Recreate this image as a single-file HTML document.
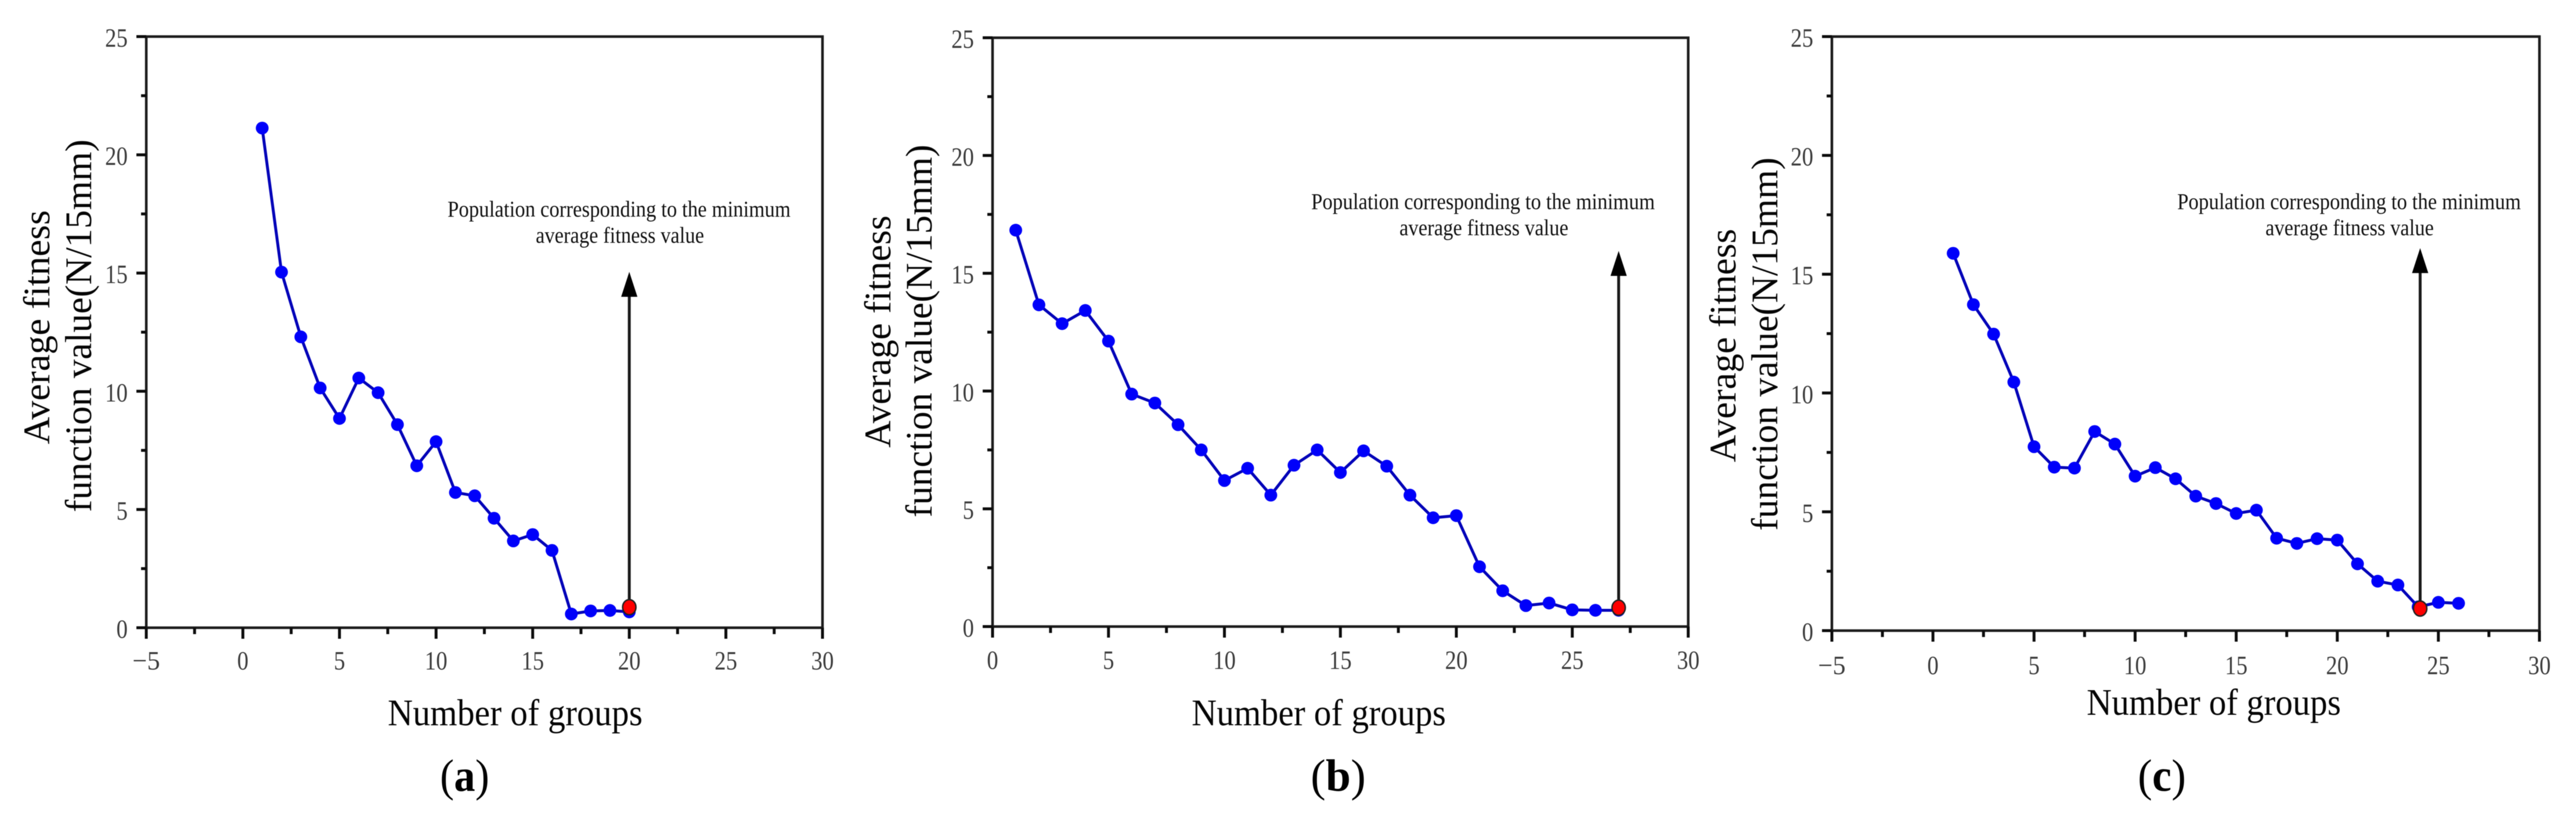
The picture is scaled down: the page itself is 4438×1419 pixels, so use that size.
<!DOCTYPE html>
<html lang="en">
<head>
<meta charset="utf-8">
<title>Average fitness function value vs number of groups</title>
<style>
html,body{margin:0;padding:0;background:#fff;width:4438px;height:1419px;overflow:hidden}
svg{display:block}
text{font-family:"Liberation Serif","DejaVu Serif",serif}
.title{font-size:65px;fill:#050505}
.note{font-size:39px;fill:#111}
.cap{font-size:78px;fill:#000}
.tick{font-size:46px;fill:#3c3c3c}
</style>
</head>
<body>
<svg id="figure" xmlns="http://www.w3.org/2000/svg" width="4438" height="1419" viewBox="0 0 4438 1419">
  <rect width="4438" height="1419" fill="#fff"/>

  <g id="panel-a" style="filter:blur(.6px)">
    <text class="title" transform="translate(85 765) rotate(-90)" textLength="403" lengthAdjust="spacingAndGlyphs">Average fitness</text>
    <text class="title" transform="translate(157 882) rotate(-90)" textLength="642" lengthAdjust="spacingAndGlyphs">function value(N/15mm)</text>
    <text class="title" x="668" y="1249" textLength="439" lengthAdjust="spacingAndGlyphs">Number of groups</text>
    <text class="note" x="771" y="373" textLength="591" lengthAdjust="spacingAndGlyphs">Population corresponding to the minimum</text>
    <text class="note" x="923" y="418" textLength="290" lengthAdjust="spacingAndGlyphs">average fitness value</text>
    <text class="cap" x="758" y="1362" textLength="85" lengthAdjust="spacingAndGlyphs">(<tspan font-weight="bold">a</tspan>)</text>
  </g>

  <g id="panel-b" style="filter:blur(.6px)">
    <text class="title" transform="translate(1534 771) rotate(-90)" textLength="400" lengthAdjust="spacingAndGlyphs">Average fitness</text>
    <text class="title" transform="translate(1605 891) rotate(-90)" textLength="642" lengthAdjust="spacingAndGlyphs">function value(N/15mm)</text>
    <text class="title" x="2053" y="1249" textLength="438" lengthAdjust="spacingAndGlyphs">Number of groups</text>
    <text class="note" x="2259" y="360" textLength="592" lengthAdjust="spacingAndGlyphs">Population corresponding to the minimum</text>
    <text class="note" x="2411" y="405" textLength="291" lengthAdjust="spacingAndGlyphs">average fitness value</text>
    <text class="cap" x="2258" y="1362" textLength="95" lengthAdjust="spacingAndGlyphs">(<tspan font-weight="bold">b</tspan>)</text>
  </g>

  <g id="panel-c" style="filter:blur(.6px)">
    <text class="title" transform="translate(2990 796) rotate(-90)" textLength="402" lengthAdjust="spacingAndGlyphs">Average fitness</text>
    <text class="title" transform="translate(3062 914) rotate(-90)" textLength="643" lengthAdjust="spacingAndGlyphs">function value(N/15mm)</text>
    <text class="title" x="3595" y="1231" textLength="438" lengthAdjust="spacingAndGlyphs">Number of groups</text>
    <text class="note" x="3751" y="360" textLength="592" lengthAdjust="spacingAndGlyphs">Population corresponding to the minimum</text>
    <text class="note" x="3903" y="405" textLength="290" lengthAdjust="spacingAndGlyphs">average fitness value</text>
    <text class="cap" x="3683" y="1362" textLength="83" lengthAdjust="spacingAndGlyphs">(<tspan font-weight="bold">c</tspan>)</text>
  </g>
</svg>

<script>
// ---- chart data ----
const yTicks = [0, 5, 10, 15, 20, 25];
const yMinorTicks = [2.5, 7.5, 12.5, 17.5, 22.5];

const xTicksA = [-5, 0, 5, 10, 15, 20, 25, 30];
const xMinorTicksA = [-2.5, 2.5, 7.5, 12.5, 17.5, 22.5, 27.5];
const groupsA = [1, 2, 3, 4, 5, 6, 7, 8, 9, 10, 11, 12, 13, 14, 15, 16, 17, 18, 19, 20];
const fitnessA = [21.13, 15.04, 12.3, 10.14, 8.85, 10.56, 9.94, 8.59, 6.85, 7.87, 5.72, 5.58, 4.63, 3.67, 3.94, 3.27, 0.58, 0.71, 0.73, 0.67];
const minimumA = [20, 0.87];
const arrowTipValueA = 15.05;

const xTicksB = [0, 5, 10, 15, 20, 25, 30];
const xMinorTicksB = [2.5, 7.5, 12.5, 17.5, 22.5, 27.5];
const groupsB = [1, 2, 3, 4, 5, 6, 7, 8, 9, 10, 11, 12, 13, 14, 15, 16, 17, 18, 19, 20, 21, 22, 23, 24, 25, 26, 27];
const fitnessB = [16.83, 13.66, 12.86, 13.42, 12.12, 9.87, 9.49, 8.57, 7.5, 6.2, 6.72, 5.58, 6.85, 7.5, 6.54, 7.46, 6.81, 5.58, 4.62, 4.71, 2.54, 1.52, 0.89, 1.0, 0.71, 0.69, 0.69];
const minimumB = [27, 0.8];
const arrowTipValueB = 15.95;

const xTicksC = [-5, 0, 5, 10, 15, 20, 25, 30];
const xMinorTicksC = [-2.5, 2.5, 7.5, 12.5, 17.5, 22.5, 27.5];
const groupsC = [1, 2, 3, 4, 5, 6, 7, 8, 9, 10, 11, 12, 13, 14, 15, 16, 17, 18, 19, 20, 21, 22, 23, 24, 25, 26];
const fitnessC = [15.88, 13.72, 12.48, 10.46, 7.74, 6.88, 6.84, 8.38, 7.85, 6.5, 6.86, 6.39, 5.66, 5.35, 4.93, 5.07, 3.89, 3.67, 3.87, 3.81, 2.81, 2.08, 1.92, 1.0, 1.19, 1.15];
const minimumC = [24.1, 0.93];
const arrowTipValueC = 16.1;

const NS = 'http://www.w3.org/2000/svg';

function mk(parent, tag, attrs) {
  const el = document.createElementNS(NS, tag);
  for (const k in attrs) el.setAttribute(k, attrs[k]);
  parent.appendChild(el);
  return el;
}

function tickText(v) {
  return v < 0 ? '\u2212' + Math.abs(v) : String(v);
}

function tickWidth(v) {
  return String(Math.abs(v)).length * 19.5 + (v < 0 ? 28 : 0);
}

function drawPanel(id, box, xDomain, xTicks, xMinor, groups, fitness, minimum, arrowTip) {
  const g = document.getElementById(id);
  const sx = v => box.left + (v - xDomain[0]) / (xDomain[1] - xDomain[0]) * (box.right - box.left);
  const sy = v => box.bottom - v / 25 * (box.bottom - box.top);
  const axisStyle = {stroke: '#0c0c0c', 'stroke-width': 5, fill: 'none'};

  const frame = mk(g, 'rect', {x: box.left, y: box.top, width: box.right - box.left, height: box.bottom - box.top, stroke: '#1c1c1c', 'stroke-width': 4.5, fill: 'none'});
  
  

  yTicks.forEach(v => {
    const t = mk(g, 'line', Object.assign({x1: box.left - 17, x2: box.left, y1: sy(v), y2: sy(v)}, axisStyle));
    
    
    const l = mk(g, 'text', {x: box.left - 32, y: sy(v) + 17.5, class: 'tick', 'text-anchor': 'end', textLength: tickWidth(v), lengthAdjust: 'spacingAndGlyphs'});
    l.textContent = tickText(v);
    
    
  });

  yMinorTicks.forEach(v => {
    const t = mk(g, 'line', Object.assign({x1: box.left - 9, x2: box.left, y1: sy(v), y2: sy(v)}, axisStyle));
    
    
  });

  xTicks.forEach(v => {
    const t = mk(g, 'line', Object.assign({x1: sx(v), x2: sx(v), y1: box.bottom, y2: box.bottom + 19}, axisStyle));
    
    
    const l = mk(g, 'text', {x: sx(v), y: box.labelY, class: 'tick', 'text-anchor': 'middle', textLength: tickWidth(v), lengthAdjust: 'spacingAndGlyphs'});
    l.textContent = tickText(v);
    
    
  });

  xMinor.forEach(v => {
    const t = mk(g, 'line', Object.assign({x1: sx(v), x2: sx(v), y1: box.bottom, y2: box.bottom + 11}, axisStyle));
    
    
  });

  const series = mk(g, 'polyline', {
    points: groups.map((x, i) => sx(x) + ',' + sy(fitness[i])).join(' '),
    fill: 'none', stroke: '#0000b8', 'stroke-width': 5, 'stroke-linejoin': 'round'
  });
  
  

  groups.forEach((x, i) => {
    const p = mk(g, 'circle', {cx: sx(x), cy: sy(fitness[i]), r: 11, fill: '#0000fa'});
    
    
  });

  const ax = sx(minimum[0]);
  const tipY = sy(arrowTip);
  const shaft = mk(g, 'line', {x1: ax, x2: ax, y1: sy(minimum[1]), y2: tipY + 40, stroke: '#1a1a1a', 'stroke-width': 5});
  
  
  const head = mk(g, 'polygon', {points: (ax) + ',' + tipY + ' ' + (ax - 14) + ',' + (tipY + 43) + ' ' + (ax + 14) + ',' + (tipY + 43), fill: '#000'});
  
  

  const red = mk(g, 'ellipse', {cx: ax, cy: sy(minimum[1]), rx: 11.5, ry: 13, fill: '#ff0000', stroke: '#222', 'stroke-width': 2.5});
  
  
}

drawPanel('panel-a', {left: 252, right: 1417, top: 63, bottom: 1081, labelY: 1153}, [-5, 30], xTicksA, xMinorTicksA, groupsA, fitnessA, minimumA, arrowTipValueA);
drawPanel('panel-b', {left: 1710, right: 2908.5, top: 65, bottom: 1079, labelY: 1152}, [0, 30], xTicksB, xMinorTicksB, groupsB, fitnessB, minimumB, arrowTipValueB);
drawPanel('panel-c', {left: 3156, right: 4375, top: 63, bottom: 1086, labelY: 1161}, [-5, 30], xTicksC, xMinorTicksC, groupsC, fitnessC, minimumC, arrowTipValueC);
</script>
</body>
</html>
